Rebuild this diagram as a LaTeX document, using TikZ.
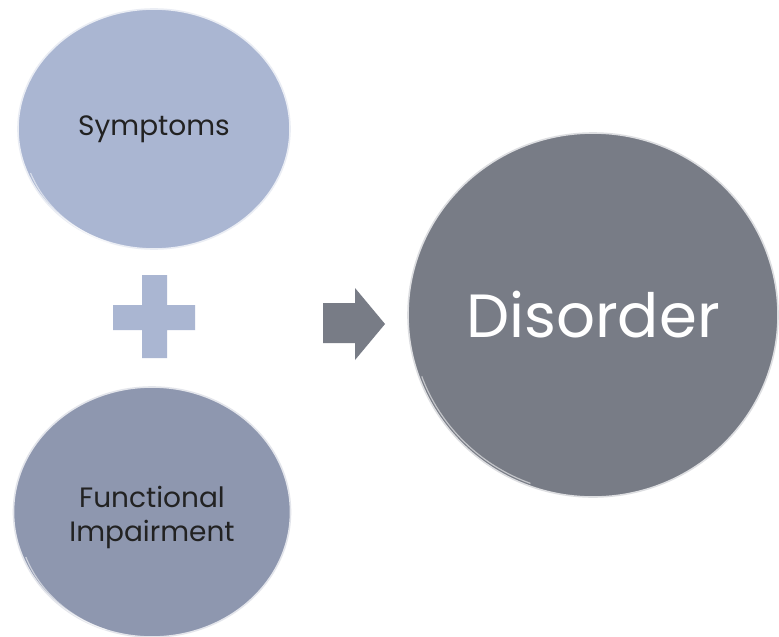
\documentclass[tikz,border=0pt]{standalone}
\usepackage{fontspec}
\setmainfont{Poppins}
\usetikzlibrary{shapes.geometric}
\definecolor{symfill}{HTML}{AAB6D2}
\definecolor{funcfill}{HTML}{8E97AF}
\definecolor{disfill}{HTML}{787C86}
\definecolor{darktext}{HTML}{222222}
\tikzset{
  bubble/.style={ellipse, inner sep=0pt, line width=1.6pt, draw=white!75!#1, fill=#1},
  rim/.style={line width=1.2pt, draw=white, opacity=0.55},
}
\begin{document}
\begin{tikzpicture}[x=1pt,y=-1pt]
  \useasboundingbox[fill=white] (0,0) rectangle (779,637);

  % two input circles on the left
  \node[bubble=symfill, minimum width=272pt, minimum height=240pt,
        font=\fontsize{28}{34}\selectfont, text=darktext] (sym) at (154,129) {Symptoms};
  \node[bubble=funcfill, minimum width=277pt, minimum height=250pt] (func) at (152,512) {};
  \node[font=\fontsize{28}{34}\selectfont, text=darktext, align=center] (funclabel)
        at ([yshift=-5pt]func.center) {Functional\\Impairment};

  % result circle on the right
  \node[bubble=disfill, minimum width=370pt, minimum height=364pt,
        font=\fontsize{61}{70}\selectfont, text=white] (dis) at (593,315) {Disorder};

  % soft highlight along the lower-left edges
  \draw[rim] ([shift={(3,-2)}]sym.200) arc[start angle=200, end angle=250, x radius=133pt, y radius=117pt];
  \draw[rim] ([shift={(3,-2)}]func.200) arc[start angle=200, end angle=250, x radius=135pt, y radius=122pt];
  \draw[rim] ([shift={(3,-2)}]dis.200) arc[start angle=200, end angle=250, x radius=182pt, y radius=179pt];

  % plus sign
  \fill[symfill] (142,275) -- (167,275) -- (167,305) -- (195,305) -- (195,330) -- (167,330)
    -- (167,358) -- (142,358) -- (142,330) -- (113,330) -- (113,305) -- (142,305) -- cycle;

  % block arrow
  \fill[disfill] (323,303) -- (355,303) -- (355,288) -- (385,324) -- (355,360) -- (355,343)
    -- (323,343) -- cycle;
\end{tikzpicture}
\end{document}
